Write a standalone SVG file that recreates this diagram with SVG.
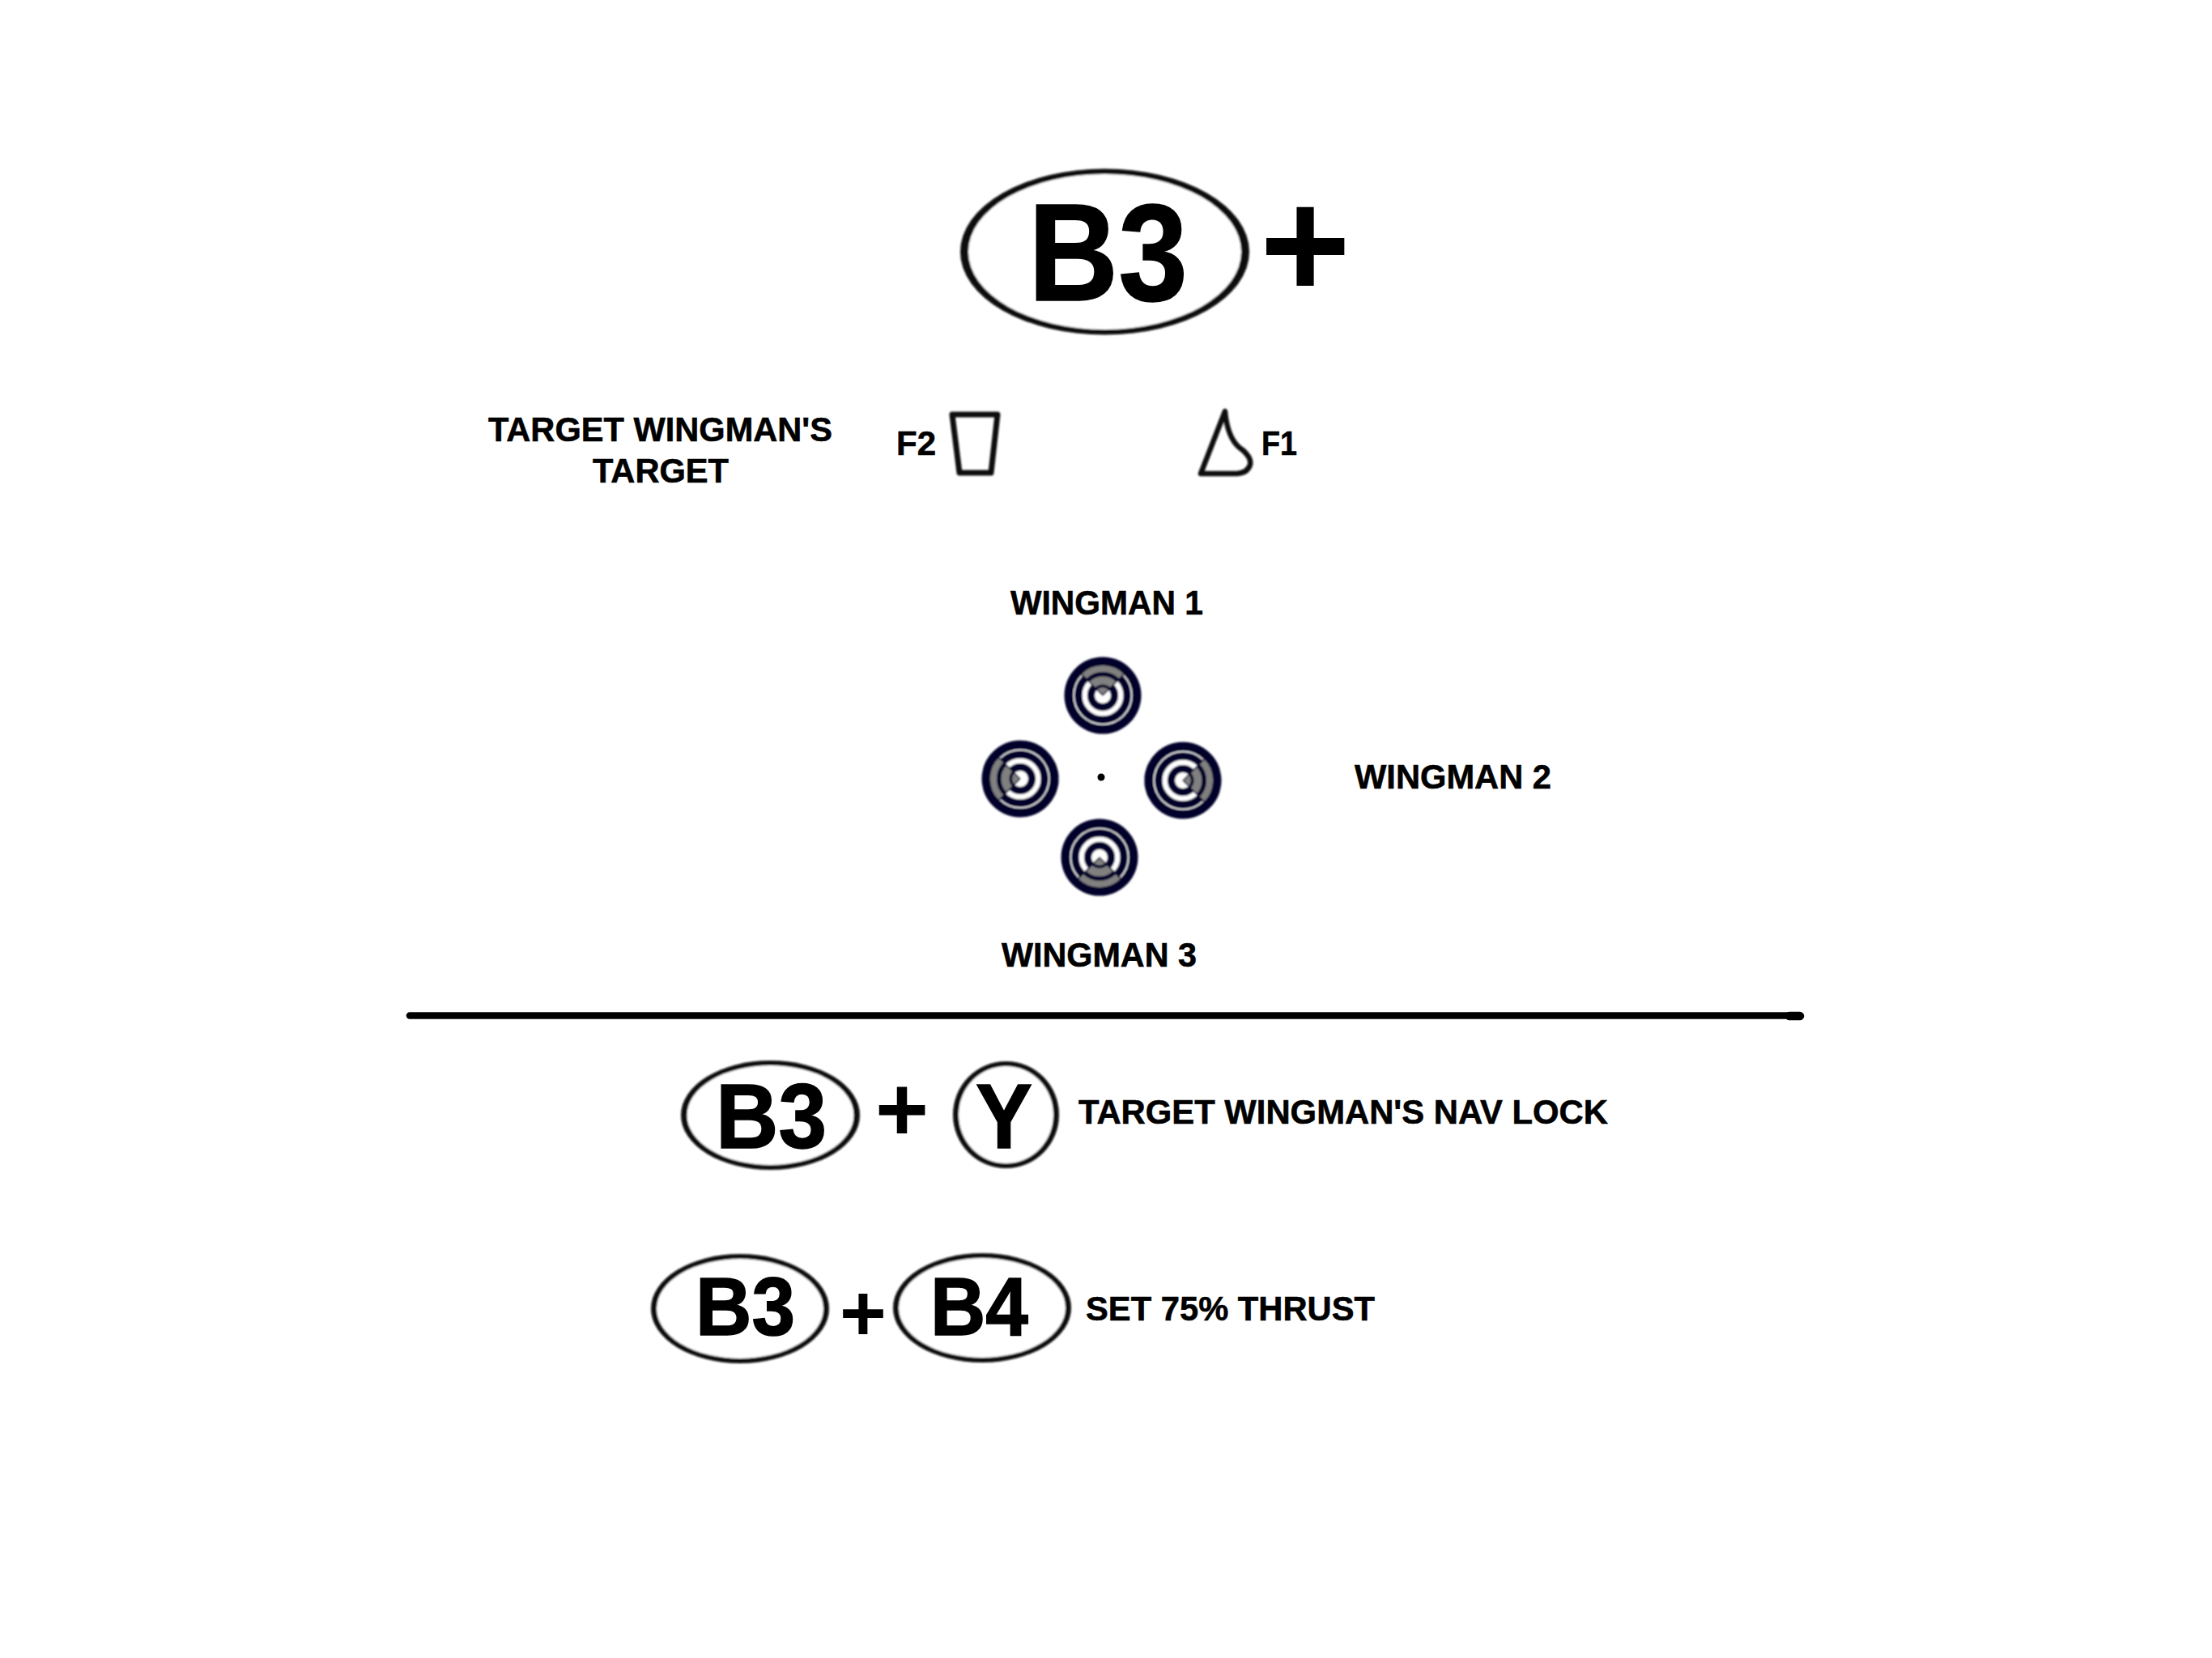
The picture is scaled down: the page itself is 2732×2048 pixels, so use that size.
<svg xmlns="http://www.w3.org/2000/svg" width="2732" height="2048" viewBox="0 0 2732 2048">
<style>
text{font-family:"Liberation Sans",Arial,sans-serif;font-weight:700;fill:#000}
.l{font-size:43px;stroke:#000;stroke-width:.6px}
.b{stroke:#000;stroke-width:1.5px}
.o{fill:#0a0a0a}
.i{fill:#fff}
.shape{fill:none;stroke:#111;stroke-linejoin:round}
</style>
<defs>
<filter id="soft" x="-10%" y="-10%" width="120%" height="120%"><feGaussianBlur stdDeviation="0.8"/></filter>
<g id="target" filter="url(#soft)">
<circle r="47.500" fill="#05052b"/>
<circle r="35.700" fill="none" stroke="#fff" stroke-width="1.600"/>
<circle r="22.300" fill="none" stroke="#fff" stroke-width="6.300"/>
<circle r="10" fill="#fff"/>
<path d="M-18.400-18.400A26 26 0 0 1 18.400-18.400" fill="none" stroke="#05052b" stroke-width="6"/>
<path d="M-8.100-8.100A11.500 11.500 0 0 1 8.100-8.100" fill="none" stroke="#05052b" stroke-width="4"/>
<path d="M-23.300-23.300A33 33 0 0 1 23.300-23.300" fill="none" stroke="#808080" stroke-width="8"/>
<path d="M-13.100-13.100A18.500 18.500 0 0 1 13.100-13.100" fill="none" stroke="#808080" stroke-width="10"/>
<path d="M0 0L-6.700-6.700A9.500 9.500 0 0 1 6.700-6.700Z" fill="#808080"/>
<path d="M0 0L-27.500-27.500M0 0L27.500-27.500" fill="none" stroke="#05052b" stroke-width="1.500"/>
</g>
</defs>
<rect width="2732" height="2048" fill="#fff"/>
<g id="b3-top">
<g filter="url(#soft)"><ellipse class="o" cx="1364.500" cy="311" rx="178.500" ry="102.500"/><ellipse class="i" cx="1364.500" cy="311" rx="168.500" ry="96"/></g>
<text class="b" x="1270" y="371" font-size="170" textLength="197" lengthAdjust="spacingAndGlyphs">B3</text>
</g>
<text id="plus-top" x="1556" y="368" font-size="192">+</text>
<text class="l" x="603" y="545" textLength="425" lengthAdjust="spacingAndGlyphs">TARGET WINGMAN'S</text>
<text class="l" x="732" y="596" textLength="168" lengthAdjust="spacingAndGlyphs">TARGET</text>
<g id="f2"><text class="l" x="1107" y="562" textLength="49" lengthAdjust="spacingAndGlyphs">F2</text><path class="shape" d="M1176 512H1232L1224 584H1185Z" stroke-width="7" filter="url(#soft)"/></g>
<g id="f1"><path class="shape" d="M1513 508C1515 530 1522 548 1535 556Q1546 566 1544 574Q1541 584 1528 585H1483Z" stroke-width="6.500" filter="url(#soft)"/><text class="l" x="1558" y="562" textLength="44" lengthAdjust="spacingAndGlyphs">F1</text></g>
<text class="l" x="1248" y="759" textLength="238" lengthAdjust="spacingAndGlyphs">WINGMAN 1</text>
<text class="l" x="1673" y="974" textLength="243" lengthAdjust="spacingAndGlyphs">WINGMAN 2</text>
<text class="l" x="1237" y="1194" textLength="241" lengthAdjust="spacingAndGlyphs">WINGMAN 3</text>
<g id="wingman-targets">
<use href="#target" transform="translate(1362 859)"/>
<use href="#target" transform="translate(1260 962) rotate(-90)"/>
<use href="#target" transform="translate(1461 964) rotate(90)"/>
<use href="#target" transform="translate(1358 1059) rotate(180)"/>
<circle cx="1360" cy="960" r="4.500" fill="#000"/>
</g>
<path id="divider" d="M506 1254.500H2215" stroke="#000" stroke-width="8.500" stroke-linecap="round"/>
<path id="divider-end" d="M2210 1255H2223" stroke="#000" stroke-width="10.500" stroke-linecap="round"/>
<g id="b3-y">
<g filter="url(#soft)"><ellipse class="o" cx="951.500" cy="1377.500" rx="110.500" ry="67.500"/><ellipse class="i" cx="951.500" cy="1377.500" rx="103" ry="61.500"/></g>
<text class="b" x="884" y="1418" font-size="113" textLength="137" lengthAdjust="spacingAndGlyphs">B3</text>
<text x="1081" y="1409" font-size="113">+</text>
<g filter="url(#soft)"><ellipse class="o" cx="1242.500" cy="1377" rx="65.500" ry="66"/><ellipse class="i" cx="1242.500" cy="1377" rx="58.500" ry="60"/></g>
<text class="b" x="1205" y="1418" font-size="113" textLength="70" lengthAdjust="spacingAndGlyphs">Y</text>
<text class="l" x="1332" y="1388" textLength="654" lengthAdjust="spacingAndGlyphs">TARGET WINGMAN'S NAV LOCK</text>
</g>
<g id="b3-b4">
<g filter="url(#soft)"><ellipse class="o" cx="914" cy="1616.500" rx="110" ry="67.500"/><ellipse class="i" cx="914" cy="1616.500" rx="103" ry="61.500"/></g>
<text class="b" x="859" y="1649" font-size="102" textLength="123" lengthAdjust="spacingAndGlyphs">B3</text>
<text x="1037" y="1656" font-size="99">+</text>
<g filter="url(#soft)"><ellipse class="o" cx="1213" cy="1615.500" rx="110" ry="67.500"/><ellipse class="i" cx="1213" cy="1615.500" rx="103" ry="61.500"/></g>
<text class="b" x="1149" y="1649" font-size="102" textLength="121" lengthAdjust="spacingAndGlyphs">B4</text>
<text class="l" x="1341" y="1631" textLength="357" lengthAdjust="spacingAndGlyphs">SET 75% THRUST</text>
</g>
</svg>
